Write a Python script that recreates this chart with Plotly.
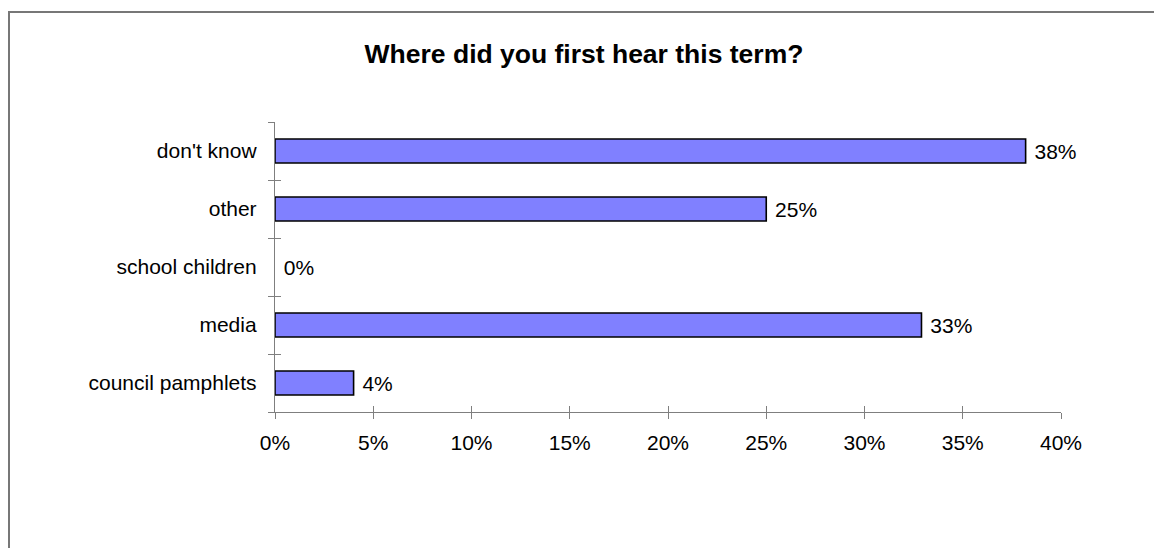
import plotly.graph_objects as go

categories = ["council pamphlets", "media", "school children", "other", "don't know"]
values = [4.0, 32.9, 0.0, 25.0, 38.2]
x_ticks = [0, 5, 10, 15, 20, 25, 30, 35, 40]
x_tick_labels = ["0%", "5%", "10%", "15%", "20%", "25%", "30%", "35%", "40%"]
title_text = "Where did you first hear this term?"

W, H = 1154, 548
L, T = 275, 122
R = W - 1061
B = H - 412
pw, ph = W - L - R, H - T - B

def px_x(p):
    return (p - L) / pw

def px_y(p):
    return (H - B - p) / ph

AX = "#7f7f7f"
FONT = "Liberation Sans, Arial, sans-serif"

fig = go.Figure()
fig.add_trace(go.Bar(
    x=values, y=categories, orientation="h",
    marker=dict(color="#8080FF",
                line=dict(color="black", width=[1.6 if v > 0 else 0 for v in values])),
    texttemplate="\u00a0%{x:.0f}%", textposition="outside",
    textfont=dict(family=FONT, size=21, color="black"),
    cliponaxis=False, showlegend=False, hoverinfo="skip",
))
fig.add_trace(go.Scatter(x=[], y=[], xaxis="x2", yaxis="y2", showlegend=False, hoverinfo="skip"))

bx0, by0 = px_x(9), px_y(560)
bx1, by1 = px_x(1170), px_y(12)
border_path = f"M {bx0},{by0} L {bx0},{by1} L {bx1},{by1}"

fig.update_layout(
    width=W, height=H,
    margin=dict(l=L, r=R, t=T, b=B, pad=0),
    paper_bgcolor="white", plot_bgcolor="white",
    bargap=1 - 24 / 58,
    font=dict(family=FONT, size=21, color="black"),
    title=dict(text="<b>" + title_text + "</b>", x=584 / W, y=1 - 54 / H,
               xref="container", yref="container", xanchor="center", yanchor="middle",
               font=dict(family=FONT, size=26.5, color="black")),
    xaxis=dict(range=[0, 40], tickvals=x_ticks, ticktext=x_tick_labels, showgrid=False, zeroline=False,
               showline=True, linecolor=AX, linewidth=1.4, ticks="outside", ticklen=6,
               tickcolor=AX, tickwidth=1.4, ticklabelstandoff=6,
               tickfont=dict(family=FONT, size=21, color="black"), fixedrange=True),
    yaxis=dict(type="category", categoryorder="array", categoryarray=categories,
               range=[-0.5, 4.5], tickson="boundaries", showgrid=False, zeroline=False,
               showline=True, linecolor=AX, linewidth=1.4, ticks="outside", ticklen=6,
               tickcolor=AX, tickwidth=1.4, ticklabelstandoff=13,
               tickfont=dict(family=FONT, size=21, color="black"), fixedrange=True),
    xaxis2=dict(overlaying="x", anchor="y2", side="bottom", range=[0, 40], tickvals=x_ticks,
                showticklabels=False, showgrid=False, zeroline=False, showline=False,
                ticks="inside", ticklen=6, tickcolor=AX, tickwidth=1.4, fixedrange=True),
    yaxis2=dict(overlaying="y", anchor="x2", side="left", range=[-0.5, 4.5],
                tickvals=[-0.5, 0.5, 1.5, 2.5, 3.5, 4.5],
                showticklabels=False, showgrid=False, zeroline=False, showline=False,
                ticks="inside", ticklen=6, tickcolor=AX, tickwidth=1.4, fixedrange=True),
    shapes=[dict(type="path", xref="paper", yref="paper", path=border_path,
                 line=dict(color="#777777", width=2), layer="below")],
)

fig.write_html(
    "out.html",
    config={"displayModeBar": False},
    post_script="document.body.style.margin='0px';document.body.style.overflow='hidden';",
)
